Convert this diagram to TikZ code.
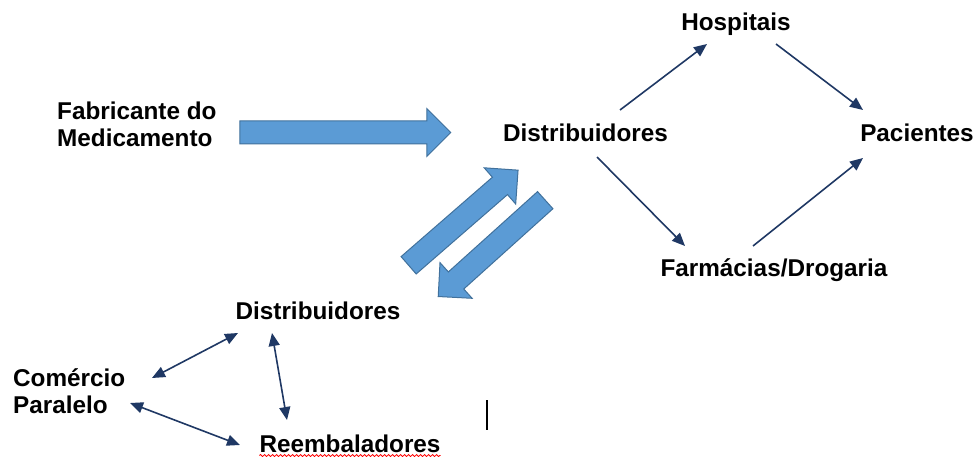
\documentclass[tikz,border=0pt]{standalone}
\usepackage{fontspec}
\setmainfont{Liberation Sans}
\usepackage{tikz}
\usetikzlibrary{shapes.arrows, arrows.meta, positioning, decorations.pathmorphing}
\definecolor{navy}{RGB}{31,56,100}
\definecolor{blockfill}{RGB}{91,155,213}
\definecolor{blockedge}{RGB}{65,113,156}
\tikzset{
    actor/.style = {inner sep=0pt, font=\fontsize{24.3}{27}\selectfont\bfseries},
    arrow/.style = {draw=navy, line width=1.6pt, -{Triangle[length=13pt,width=11pt]}},
    twoway/.style = {draw=navy, line width=1.6pt, {Triangle[length=13pt,width=11pt]}-{Triangle[length=13pt,width=11pt]}},
    bigarrow/.style = {single arrow, draw=blockedge, fill=blockfill, line width=1pt, inner xsep=0pt, inner ysep=11pt, minimum width=47pt, single arrow head extend=12.5pt}
}
\begin{document}
\begin{tikzpicture}[x=1pt, y=-1pt]
\useasboundingbox (0,0) rectangle (976,457);

% actors
\node[actor, anchor=base west, align=left] (fab) at (57,147) {Fabricante do\\Medicamento};
\node[actor, anchor=base] (dist) at (585.5,142) {Distribuidores};
\node[actor, anchor=base] (hosp) at (736,31) {Hospitais};
\node[actor, anchor=base] (pac) at (917,142) {Pacientes};
\node[actor, anchor=base] (farm) at (774,276) {Farm\'acias/Drogaria};
\node[actor, anchor=base] (distb) at (318,319) {Distribuidores};
\node[actor, anchor=base west, align=left] (com) at (13,413) {Com\'ercio\\Paralelo};
\node[actor, anchor=base] (reemb) at (350,452) {Reembaladores};

% block arrows
\node[bigarrow, minimum height=211pt] (fab2dist) at (339.5,132.5) {};
\node[bigarrow, minimum height=145pt, rotate=41] (distb2dist) at (459,221.5) {};
\node[bigarrow, minimum height=144pt, rotate=222] (dist2distb) at (496,244.5) {};

% supply chain
\draw[arrow] ([shift={(34.5,-32)}]dist.base) -- ([shift={(-29,13)}]hosp.base);
\draw[arrow] ([shift={(40,13)}]hosp.base) -- ([shift={(-54,-32)}]pac.base);
\draw[arrow] ([shift={(11.5,15)}]dist.base) -- ([shift={(-89,-30)}]farm.base);
\draw[arrow] ([shift={(-21,-30)}]farm.base) -- ([shift={(-54,16)}]pac.base);

% parallel trade
\draw[twoway] ([shift={(-80,14)}]distb.base) -- ([shift={(139,-35)}]com.base west);
\draw[twoway] ([shift={(-46,14)}]distb.base) -- ([shift={(-63,-32)}]reemb.base);
\draw[twoway] ([shift={(117,-10)}]com.base west) -- ([shift={(-110,-7)}]reemb.base);

% editor marks
\coordinate (cursor) at (487,400);
\draw[line width=1.2pt] (cursor) -- ++(0,30);
\draw[red, line width=0.8pt, decorate, decoration={snake, amplitude=1pt, segment length=4pt}] ([yshift=-3.5pt]reemb.base west) -- ([yshift=-3.5pt]reemb.base east);
\end{tikzpicture}
\end{document}
